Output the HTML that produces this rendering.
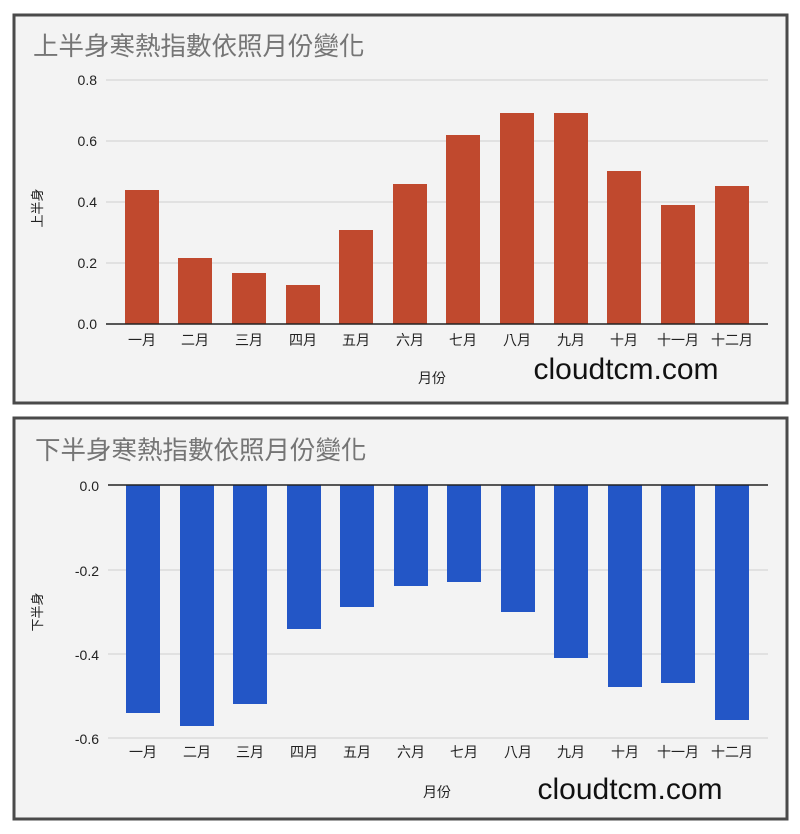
<!DOCTYPE html>
<html><head><meta charset="utf-8"><style>
html,body{margin:0;padding:0;background:#fff;}
svg{display:block;}
text{font-family:"Liberation Sans","Noto Sans CJK TC",sans-serif;}
</style></head><body>
<svg width="800" height="834" viewBox="0 0 800 834" xmlns="http://www.w3.org/2000/svg">
<rect x="0" y="0" width="800" height="834" fill="#fff"/>
<!-- Top panel -->
<rect x="14" y="15" width="773" height="388" fill="#f3f3f3" stroke="#4a4a4a" stroke-width="3"/>
<text x="33" y="55" font-size="25.5" fill="#757575">上半身寒熱指數依照月份變化</text>
<g stroke="#cfcfcf" stroke-width="1">
<line x1="106" y1="80" x2="768" y2="80"/>
<line x1="106" y1="141" x2="768" y2="141"/>
<line x1="106" y1="202" x2="768" y2="202"/>
<line x1="106" y1="263" x2="768" y2="263"/>
</g>
<g font-size="14" fill="#222" text-anchor="end">
<text x="97" y="85">0.8</text><text x="97" y="146">0.6</text><text x="97" y="207">0.4</text><text x="97" y="268">0.2</text><text x="97" y="329">0.0</text>
</g>
<g fill="#c0492e">
<rect x="125" y="190" width="34" height="134"/>
<rect x="178" y="258" width="34" height="66"/>
<rect x="232" y="273" width="34" height="51"/>
<rect x="286" y="285" width="34" height="39"/>
<rect x="339" y="230" width="34" height="94"/>
<rect x="393" y="184" width="34" height="140"/>
<rect x="446" y="135" width="34" height="189"/>
<rect x="500" y="113" width="34" height="211"/>
<rect x="554" y="113" width="34" height="211"/>
<rect x="607" y="171" width="34" height="153"/>
<rect x="661" y="205" width="34" height="119"/>
<rect x="715" y="186" width="34" height="138"/>
</g>
<line x1="106" y1="324" x2="768" y2="324" stroke="#222" stroke-width="1.5"/>
<g font-size="14" fill="#222" text-anchor="middle">
<text x="142" y="345">一月</text><text x="195" y="345">二月</text><text x="249" y="345">三月</text><text x="303" y="345">四月</text><text x="356" y="345">五月</text><text x="410" y="345">六月</text><text x="463" y="345">七月</text><text x="517" y="345">八月</text><text x="571" y="345">九月</text><text x="624" y="345">十月</text><text x="678" y="345">十一月</text><text x="732" y="345">十二月</text>
</g>
<text x="432" y="383" font-size="14" fill="#222" text-anchor="middle">月份</text>
<text x="626" y="379" font-size="30" fill="#111" text-anchor="middle">cloudtcm.com</text>
<text transform="translate(42,208) rotate(-90)" font-size="13" fill="#222" text-anchor="middle">上半身</text>

<!-- Bottom panel -->
<rect x="14" y="418" width="773" height="401" fill="#f3f3f3" stroke="#4a4a4a" stroke-width="3"/>
<text x="35" y="459" font-size="25.5" fill="#757575">下半身寒熱指數依照月份變化</text>
<g stroke="#cfcfcf" stroke-width="1">
<line x1="108" y1="570" x2="768" y2="570"/>
<line x1="108" y1="654" x2="768" y2="654"/>
<line x1="108" y1="738" x2="768" y2="738"/>
</g>
<g font-size="14" fill="#222" text-anchor="end">
<text x="99" y="491">0.0</text><text x="99" y="576">-0.2</text><text x="99" y="660">-0.4</text><text x="99" y="744">-0.6</text>
</g>
<g fill="#2356c6">
<rect x="126" y="485" width="34" height="228"/>
<rect x="180" y="485" width="34" height="241"/>
<rect x="233" y="485" width="34" height="219"/>
<rect x="287" y="485" width="34" height="144"/>
<rect x="340" y="485" width="34" height="122"/>
<rect x="394" y="485" width="34" height="101"/>
<rect x="447" y="485" width="34" height="97"/>
<rect x="501" y="485" width="34" height="127"/>
<rect x="554" y="485" width="34" height="173"/>
<rect x="608" y="485" width="34" height="202"/>
<rect x="661" y="485" width="34" height="198"/>
<rect x="715" y="485" width="34" height="235"/>
</g>
<line x1="108" y1="485" x2="768" y2="485" stroke="#222" stroke-width="1.5"/>
<g font-size="14" fill="#222" text-anchor="middle">
<text x="143" y="757">一月</text><text x="197" y="757">二月</text><text x="250" y="757">三月</text><text x="304" y="757">四月</text><text x="357" y="757">五月</text><text x="411" y="757">六月</text><text x="464" y="757">七月</text><text x="518" y="757">八月</text><text x="571" y="757">九月</text><text x="625" y="757">十月</text><text x="678" y="757">十一月</text><text x="732" y="757">十二月</text>
</g>
<text x="437" y="797" font-size="14" fill="#222" text-anchor="middle">月份</text>
<text x="630" y="799" font-size="30" fill="#111" text-anchor="middle">cloudtcm.com</text>
<text transform="translate(42,612) rotate(-90)" font-size="13" fill="#222" text-anchor="middle">下半身</text>
</svg>
</body></html>
